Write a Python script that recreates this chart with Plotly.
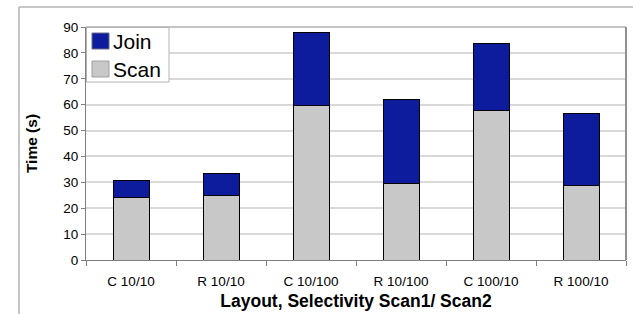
import plotly.graph_objects as go

categories = ["C 10/10", "R 10/10", "C 10/100", "R 10/100", "C 100/10", "R 100/10"]
scan = [24.1, 24.8, 59.7, 29.5, 57.6, 28.7]
join = [6.7, 8.8, 28.1, 32.4, 25.9, 27.8]
y_ticks = [0, 10, 20, 30, 40, 50, 60, 70, 80, 90]

JOIN_COLOR = "#0c1c9c"
SCAN_COLOR = "#c8c8c8"

W, H = 633, 314
L, R, T, B = 86, 7, 27, 54
pw, ph = W - L - R, H - T - B

fig = go.Figure()
fig.add_trace(go.Bar(x=categories, y=scan, name="Scan",
                     marker=dict(color=SCAN_COLOR, line=dict(color="#000000", width=1))))
fig.add_trace(go.Bar(x=categories, y=join, name="Join",
                     marker=dict(color=JOIN_COLOR, line=dict(color="#000000", width=1))))

def px_x(x):
    return (x - L) / pw

def px_y(y):
    return (H - B - y) / ph

def rect(x0, y0, x1, y1, fill, line, lw=1):
    return dict(type="rect", xref="paper", yref="paper",
                x0=px_x(x0), x1=px_x(x1), y0=px_y(y1), y1=px_y(y0),
                fillcolor=fill, line=dict(color=line, width=lw), layer="above")

shapes = [
    # outer chart frame (top and left)
    dict(type="line", xref="paper", yref="paper", x0=px_x(19), x1=px_x(640),
         y0=px_y(7), y1=px_y(7), line=dict(color="#b4b4b4", width=1.5)),
    dict(type="line", xref="paper", yref="paper", x0=px_x(19), x1=px_x(19),
         y0=px_y(7), y1=px_y(330), line=dict(color="#b4b4b4", width=1.5)),
    # plot area border
    dict(type="line", xref="paper", yref="paper", x0=0, x1=1, y0=1, y1=1,
         line=dict(color="#b0b0b0", width=1.5)),
    dict(type="line", xref="paper", yref="paper", x0=1, x1=1, y0=0, y1=1,
         line=dict(color="#909090", width=2)),
    # legend box and swatches
    rect(86.5, 27.5, 169, 82, "white", "#b4b4b4", 1),
    rect(92, 33, 109, 49, JOIN_COLOR, "#6a6a8a", 1),
    rect(92, 61, 109, 77, SCAN_COLOR, "#a0a0a0", 1),
]

annotations = [
    dict(xref="paper", yref="paper", x=px_x(111), y=px_y(42), text="Join",
         showarrow=False, xanchor="left", yanchor="middle", font=dict(size=21)),
    dict(xref="paper", yref="paper", x=px_x(111), y=px_y(69.5), text="Scan",
         showarrow=False, xanchor="left", yanchor="middle", font=dict(size=21)),
]

fig.update_layout(
    width=W, height=H,
    margin=dict(l=L, r=R, t=T, b=B),
    paper_bgcolor="white", plot_bgcolor="white",
    barmode="stack", bargap=0.6,
    font=dict(family="Liberation Sans, Arial, sans-serif", color="#000000"),
    showlegend=False,
    shapes=shapes,
    annotations=annotations,
    xaxis=dict(
        type="category", showgrid=False,
        showline=True, linecolor="#808080", linewidth=1,
        ticks="outside", tickson="boundaries", ticklen=5, tickcolor="#808080",
        tickfont=dict(size=13.5), ticklabelstandoff=9,
        title=dict(text="<b>Layout, Selectivity Scan1/ Scan2</b>", font=dict(size=17.5), standoff=6),
    ),
    yaxis=dict(
        range=[0, 90], tickvals=y_ticks,
        showgrid=True, gridcolor="#d9d9d9", gridwidth=1.5,
        showline=True, linecolor="#808080", linewidth=1,
        ticks="outside", ticklen=4, tickcolor="#808080",
        tickfont=dict(size=13.5),
        zeroline=False,
        title=dict(text="<b>Time (s)</b>", font=dict(size=15.5), standoff=21),
    ),
)

fig.write_html("out.html", config={"displayModeBar": False},
               post_script="document.body.style.margin='0';")
